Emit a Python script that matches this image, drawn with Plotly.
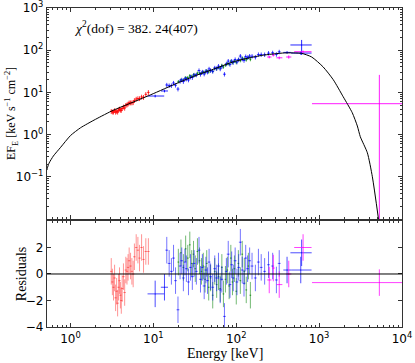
import plotly.graph_objects as go

# ---------------- data ----------------
MODEL_E = [0.52, 0.525, 0.55, 0.62, 0.76, 1.0, 1.32, 2.0, 3.3, 5.0, 9.3, 20, 37.6, 50, 95, 200,
           380, 615, 813, 1120, 1480, 1950, 2510, 2890, 3140, 3820, 4390, 5200]
MODEL_F = [0.145, 0.16, 0.21, 0.31, 0.5, 0.95, 1.45, 2.3, 3.8, 5.3, 8.8, 17, 28, 34, 54, 75,
           86, 84, 69, 40, 20, 7.9, 3.3, 1.6, 0.89, 0.37, 0.1, 0.01]

RED_E = [3.1, 3.2, 3.3, 3.4, 3.5, 3.6, 3.7, 3.8, 3.9, 4.0, 4.1, 4.2, 4.35, 4.5, 4.65, 4.8, 4.95,
         5.1, 5.3, 5.5, 5.7, 5.9, 6.2, 6.5, 6.8, 7.2, 7.6, 8.1, 8.7]
RED_F = [3.55, 3.45, 3.44, 3.72, 3.41, 3.59, 3.43, 3.81, 4.05, 3.82, 3.78, 4.15, 4.54, 4.24, 4.95,
         5.07, 5.33, 5.67, 5.68, 5.68, 5.75, 6.44, 6.95, 7.15, 7.15, 7.8, 7.65, 9.0, 10.0]
RED_R = [0.2, -0.6, -1.0, -0.3, -1.8, -1.3, -2.2, -1.0, -0.5, -1.6, -2.0, -1.1, -0.2, -1.4, 0.3,
         0.2, 0.5, 1.0, 0.6, 0.2, 0.0, 1.3, 2.0, 1.8, 1.2, 2.0, 1.1, 1.7, 1.7]

GREEN_E = [20, 21.5, 23, 24.5, 26, 27.5, 29, 30.5, 32, 34, 36, 38, 40, 42, 44, 46.5, 49, 52, 55,
           58, 61, 64, 67, 70, 74, 78, 82, 86, 90, 95, 100, 106, 112, 118, 125, 132, 140, 148]
GREEN_F = [18.0, 19.7, 19.6, 22.3, 22.5, 24.9, 24.1, 26.2, 25.6, 28.6, 28.6, 28.5, 30.4, 29.6,
           32.8, 30.6, 33.0, 31.6, 36.9, 36.2, 39.0, 38.3, 43.8, 40.0, 44.4, 48.4, 46.4, 54.7,
           50.6, 55.3, 51.0, 59.7, 56.7, 65.4, 62.7, 59.0, 67.3, 60.1]
GREEN_R = [0.9, 1.6, 0.5, 1.9, 1.2, 2.2, 0.8, 1.5, 0.4, 1.7, 1.0, 0.2, 0.6, -0.4, 0.8, -1.0, -0.3,
           -1.6, 0.2, -0.8, -0.2, -1.1, 0.5, -1.5, -0.4, 0.3, -0.9, 1.2, -0.6, 0.4, -1.3, 0.8,
           -0.5, 1.5, 0.2, -1.2, 0.6, -1.6]

BLUE_E = [14.5, 15.5, 16.5, 17.5, 18.5, 19.8, 21, 22, 23, 24, 25, 26.5, 28, 29.5, 31, 33, 35.5,
          37, 39, 41, 43, 45, 47, 49, 52, 55, 58, 61, 64, 67, 72, 76, 80, 84, 88, 92, 97, 102,
          107, 112, 118, 124, 130, 137, 145, 155, 170, 185, 200, 220, 245, 275, 305, 330]
BLUE_F = [15.0, 14.5, 14.5, 16.7, 14.8, 12.0, 18.3, 19.8, 18.1, 21.0, 20.8, 19.7, 23.1, 22.5,
          25.9, 26.0, 33.0, 26.9, 30.5, 27.3, 31.9, 30.4, 36.0, 33.0, 31.5, 38.0, 36.9, 41.9,
          36.1, 40.8, 27.0, 47.4, 55.2, 46.0, 55.1, 51.4, 60.0, 52.6, 59.9, 72.5, 61.8, 57.2,
          70.6, 67.1, 72.6, 72.1, 68.4, 79.0, 78.8, 78.5, 85.1, 86.9, 79.7, 91.3]
BLUE_R = [1.8, 0.8, 0.2, 1.2, -0.5, -2.7, 0.6, 1.0, -0.3, 0.9, 0.4, -0.6, 0.5, -0.2, 0.8, 0.2,
          1.8, -0.4, 0.5, -0.9, 0.3, -0.5, 0.9, -0.2, -1.0, 0.4, -0.3, 0.6, -1.2, -0.4, -3.2,
          0.2, 1.5, -0.8, 0.7, -0.3, 1.0, -0.6, 0.5, 2.4, 0.3, -0.7, 1.2, 0.4, 1.0, 0.6, -0.3,
          0.9, 0.5, 0.2, 0.7, 0.6, -0.45, 0.8]

BLUEW_E = [10.5, 13.6, 410, 600, 615]
BLUEW_ELO = [8.5, 12.3, 370, 460, 450]
BLUEW_EHI = [13.5, 15.0, 460, 810, 813]
BLUEW_F = [8.2, 10.8, 88.6, 85.5, 133]
BLUEW_FLO = [7.6, 10.0, 82, 78, 77]
BLUEW_FHI = [8.8, 11.6, 95, 93, 175]
BLUEW_R = [-1.5, -1.0, 0.3, 0.3, 1.6]

MAG_E = [250, 280, 330, 430, 640, 5330]
MAG_ELO = [236, 270, 305, 400, 500, 820]
MAG_EHI = [266, 292, 360, 462, 810, 10000]
MAG_F = [69, 77, 66, 69, 92, 5.4]
MAG_FLO = [64, 71, 61, 63, 86, 0.001]
MAG_FHI = [74, 83, 71, 75, 98, 26]
MAG_R = [-0.45, 0.45, -0.8, 0.0, 2.0, -0.65]

CHI_TEXT = "<i>χ</i><sup>2</sup>(dof) = 382. 24(407)"
X_TICKS = [1, 10, 100, 1000, 10000]
X_TICKTEXT = ["10<sup>0</sup>", "10<sup>1</sup>", "10<sup>2</sup>", "10<sup>3</sup>", "10<sup>4</sup>"]
Y_TICKS = [0.1, 1, 10, 100, 1000]
Y_TICKTEXT = ["10<sup>−1</sup>", "10<sup>0</sup>", "10<sup>1</sup>", "10<sup>2</sup>", "10<sup>3</sup>"]
R_TICKS = [-4, -2, 0, 2]
R_TICKTEXT = ["−4", "−2", "0", "2"]

# ---------------- figure ----------------
fig = go.Figure()

def err_rel(vals, frac):
    return [v * frac for v in vals]

def add_pair(E, F, R, ex_plus, ex_minus, ey_plus, ey_minus, ctop, cres):
    ex = dict(type="data", symmetric=False, array=ex_plus, arrayminus=ex_minus,
              color=ctop, thickness=1, width=0)
    ey = dict(type="data", symmetric=False, array=ey_plus, arrayminus=ey_minus,
              color=ctop, thickness=1, width=0)
    fig.add_trace(go.Scatter(x=E, y=F, mode="markers", marker=dict(size=1, color=ctop),
                             error_x=ex, error_y=ey, xaxis="x", yaxis="y", showlegend=False,
                             hoverinfo="skip"))
    ex2 = dict(ex, color=cres)
    ey2 = dict(type="constant", value=1, color=cres, thickness=1, width=0)
    fig.add_trace(go.Scatter(x=E, y=R, mode="markers", marker=dict(size=1, color=cres),
                             error_x=ex2, error_y=ey2, xaxis="x2", yaxis="y2", showlegend=False,
                             hoverinfo="skip"))

def add_dense(E, F, R, xfrac, yfrac, ctop, cres):
    add_pair(E, F, R, err_rel(E, xfrac), err_rel(E, xfrac), err_rel(F, yfrac),
             err_rel(F, yfrac), ctop, cres)

def add_wide(E, ELO, EHI, F, FLO, FHI, R, ctop, cres):
    add_pair(E, F, R, [h - e for e, h in zip(E, EHI)], [e - l for e, l in zip(E, ELO)],
             [h - f for f, h in zip(F, FHI)], [f - l for f, l in zip(F, FLO)], ctop, cres)

add_dense(RED_E, RED_F, RED_R, 0.035, 0.13, "rgba(255,0,0,0.8)", "rgba(255,60,60,0.55)")
add_dense(GREEN_E, GREEN_F, GREEN_R, 0.025, 0.09, "rgba(0,140,0,0.75)", "rgba(0,130,0,0.55)")
add_dense(BLUE_E, BLUE_F, BLUE_R, 0.04, 0.12, "rgba(0,0,255,0.75)", "rgba(0,0,255,0.55)")
add_wide(BLUEW_E, BLUEW_ELO, BLUEW_EHI, BLUEW_F, BLUEW_FLO, BLUEW_FHI, BLUEW_R,
         "rgba(0,0,255,0.85)", "rgba(0,0,255,0.7)")
add_wide(MAG_E, MAG_ELO, MAG_EHI, MAG_F, MAG_FLO, MAG_FHI, MAG_R,
         "rgba(255,0,255,0.9)", "rgba(255,0,255,0.75)")

fig.add_trace(go.Scatter(x=MODEL_E, y=MODEL_F, mode="lines", line=dict(color="black", width=1,
                         shape="spline", smoothing=0.6), xaxis="x", yaxis="y",
                         showlegend=False, hoverinfo="skip"))

minor_log = []
for k in range(-2, 4):
    for m in range(2, 10):
        minor_log.append(m * 10 ** k)

tickfont = dict(family="DejaVu Sans", size=12, color="black")
axis_common = dict(showline=True, linecolor="#333", linewidth=1.3, mirror="allticks",
                   ticks="inside", ticklen=4, tickcolor="#333", showgrid=False, zeroline=False,
                   tickfont=tickfont, automargin=False, ticklabeloverflow="allow")
minor_x = dict(ticks="inside", ticklen=2, tickcolor="#333", tickmode="array",
               tickvals=minor_log, showgrid=False)

TOP_DOM = [0.3386, 1.0]
BOT_DOM = [0.0, 0.3323]

fig.update_layout(
    width=415, height=363,
    margin=dict(l=47, r=13, t=8, b=36, autoexpand=False),
    paper_bgcolor="white", plot_bgcolor="white",
    xaxis=dict(type="log", range=[-0.284, 4], anchor="y", domain=[0, 1],
               tickmode="array", tickvals=X_TICKS, showticklabels=False,
               minor=minor_x, **axis_common),
    yaxis=dict(type="log", range=[-2, 3], domain=TOP_DOM, anchor="x",
               tickmode="array", tickvals=Y_TICKS, ticktext=Y_TICKTEXT,
               minor=dict(ticks="inside", ticklen=2, tickcolor="#333", tickmode="array",
                          tickvals=minor_log, showgrid=False),
               **axis_common),
    xaxis2=dict(type="log", range=[-0.284, 4], anchor="y2", domain=[0, 1],
                tickmode="array", tickvals=X_TICKS, ticktext=X_TICKTEXT,
                minor=minor_x, **axis_common),
    yaxis2=dict(range=[-4, 4], domain=BOT_DOM, anchor="x2",
                tickmode="array", tickvals=R_TICKS, ticktext=R_TICKTEXT, **axis_common),
    shapes=[dict(type="line", xref="x2 domain", yref="y2", x0=0, x1=1, y0=0, y1=0,
                 line=dict(color="black", width=1), layer="above")],
    annotations=[
        dict(text=CHI_TEXT, xref="paper", yref="paper", x=0.07, y=0.94, xanchor="left",
             yanchor="middle", showarrow=False,
             font=dict(family="Liberation Serif", size=13.5, color="black")),
        dict(text="EF<sub>E</sub> [keV s<sup>−1</sup> cm<sup>−2</sup>]", xref="paper",
             yref="paper", x=-0.1, y=(TOP_DOM[0] + TOP_DOM[1]) / 2, textangle=-90,
             xanchor="center", yanchor="middle", showarrow=False,
             font=dict(family="Liberation Serif", size=12, color="black")),
        dict(text="Residuals", xref="paper", yref="paper", x=-0.07,
             y=(BOT_DOM[0] + BOT_DOM[1]) / 2, textangle=-90, xanchor="center",
             yanchor="middle", showarrow=False,
             font=dict(family="Liberation Serif", size=14, color="black")),
        dict(text="Energy [keV]", xref="paper", yref="paper", x=0.5, y=-0.082,
             xanchor="center", yanchor="middle", showarrow=False,
             font=dict(family="Liberation Serif", size=14, color="black")),
    ],
)

fig.write_html("out.html", post_script="document.body.style.margin='0px';",
               config={"displayModeBar": False})
